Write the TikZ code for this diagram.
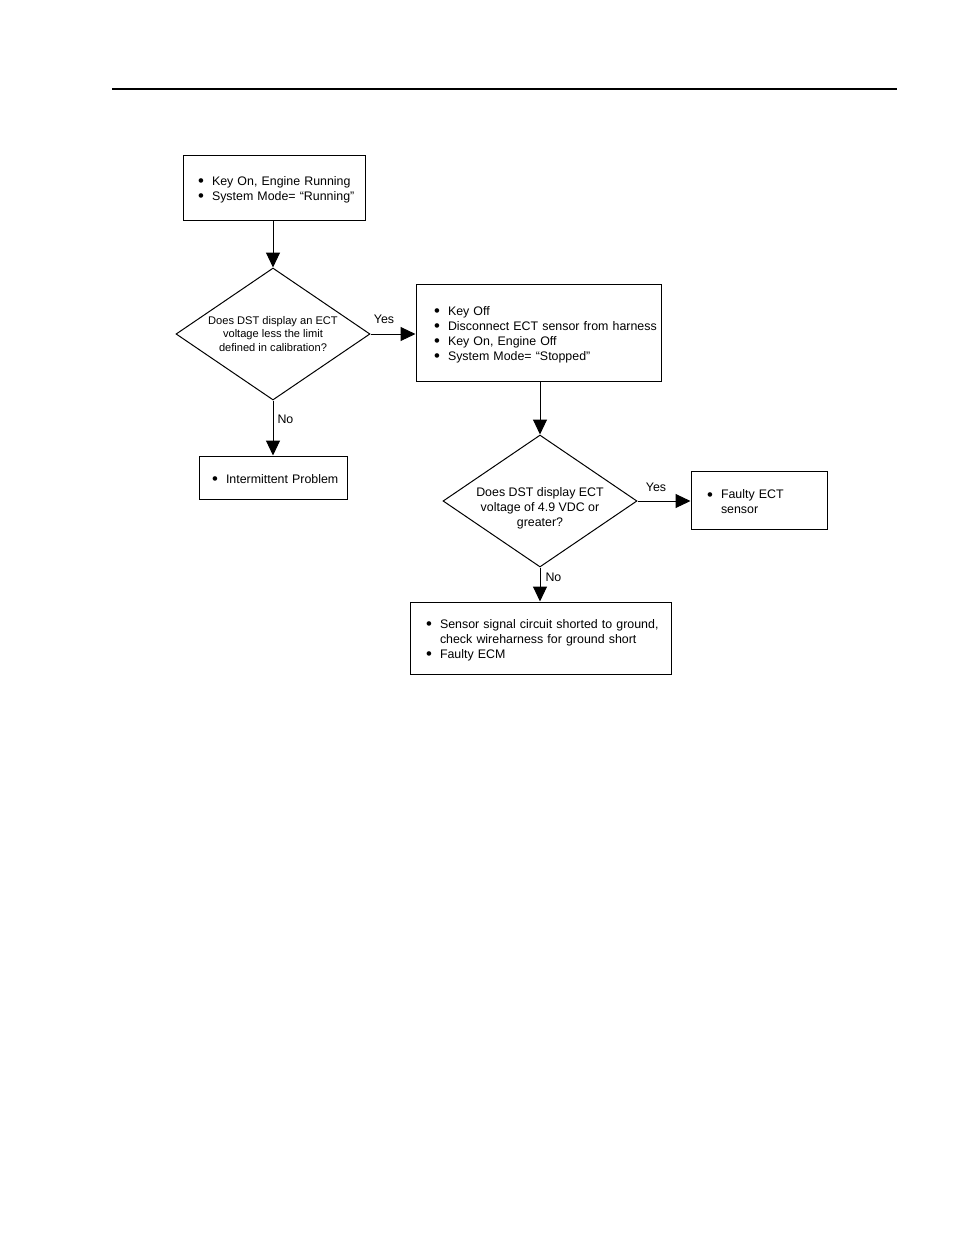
\documentclass[tikz,border=0pt]{standalone}
\usepackage{fontspec}
\setmainfont{Liberation Sans}
\usetikzlibrary{arrows.meta,shapes.geometric}
\newcommand{\bigtext}{\fontsize{12.4}{15}\selectfont}
\newcommand{\itm}[1]{\mbox{\makebox[14pt][l]{\raisebox{-0.1em}{\scalebox{1.35}{\textbullet}}}#1}}
\tikzset{
  every picture/.style={color=black, line width=1pt, x=1pt, y=-1pt},
  box/.style={draw, rectangle, inner ysep=0pt, align=left, font=\bigtext, execute at begin node={\rule{0pt}{13pt}}},
  ask/.style={draw, diamond, aspect=1.47, inner sep=0pt, minimum width=194pt, minimum height=132pt, align=center, font=\bigtext},
  flow/.style={-{Triangle[length=15pt,width=14pt]}},
  lbl/.style={font=\bigtext, inner sep=0pt},
}
\begin{document}
\begin{tikzpicture}
  \useasboundingbox (0,0) rectangle (954,1235);
  \draw[line width=1.5pt] (112,89) -- (897,89);
  % left column
  \node[box, text width=152pt, inner xsep=15pt, minimum height=65pt] (run) at (274,187.5)
    {\itm{Key On, Engine Running}\\ \itm{System Mode= ``Running''}};
  \node[ask, font=\fontsize{11.1}{13.5}\selectfont] (lowv) at (273,334)
    {Does DST display an ECT\\ voltage less the limit\\ defined in calibration?};
  \node[box, text width=122pt, inner xsep=13pt, minimum height=43pt] (intm) at (273,477.5)
    {\itm{Intermittent Problem}};
  % right column
  \node[box, text width=209pt, inner xsep=18pt, minimum height=97pt] (stop) at (538.5,332.5)
    {\itm{Key Off}\\ \itm{Disconnect ECT sensor from harness}\\ \itm{Key On, Engine Off}\\ \itm{System Mode= ``Stopped''}};
  \node[ask, label={[lbl, align=center, yshift=-7.5pt]center:{Does DST display ECT\\ voltage of 4.9 VDC or\\ greater?}}] (highv) at (540,501) {};
  \node[box, text width=104pt, inner xsep=16pt, minimum height=58pt] (fsens) at (759,500)
    {\itm{Faulty ECT}\\ \mbox{\hspace{14pt}sensor}};
  \node[box, text width=229pt, inner xsep=16pt, minimum height=72pt] (short) at (540.5,638)
    {\itm{Sensor signal circuit shorted to ground,}\\ \mbox{\hspace{14pt}check wireharness for ground short}\\ \itm{Faulty ECM}};
  % connectors
  \draw[flow] (run.south -| lowv.north) -- (lowv.north);
  \draw[flow] (lowv.east) -- node[lbl, above=10pt, pos=0.3] {Yes} (lowv.east -| stop.west);
  \draw[flow] (lowv.south) -- node[lbl, right=4pt, pos=0.34] {No} (intm.north);
  \draw[flow] (highv.north |- stop.south) -- (highv.north);
  \draw[flow] (highv.east) -- node[lbl, above=9pt, pos=0.35] {Yes} (highv.east -| fsens.west);
  \draw[flow] (highv.south) -- node[lbl, right=5pt, pos=0.29] {No} (short.north -| highv.south);
\end{tikzpicture}
\end{document}
